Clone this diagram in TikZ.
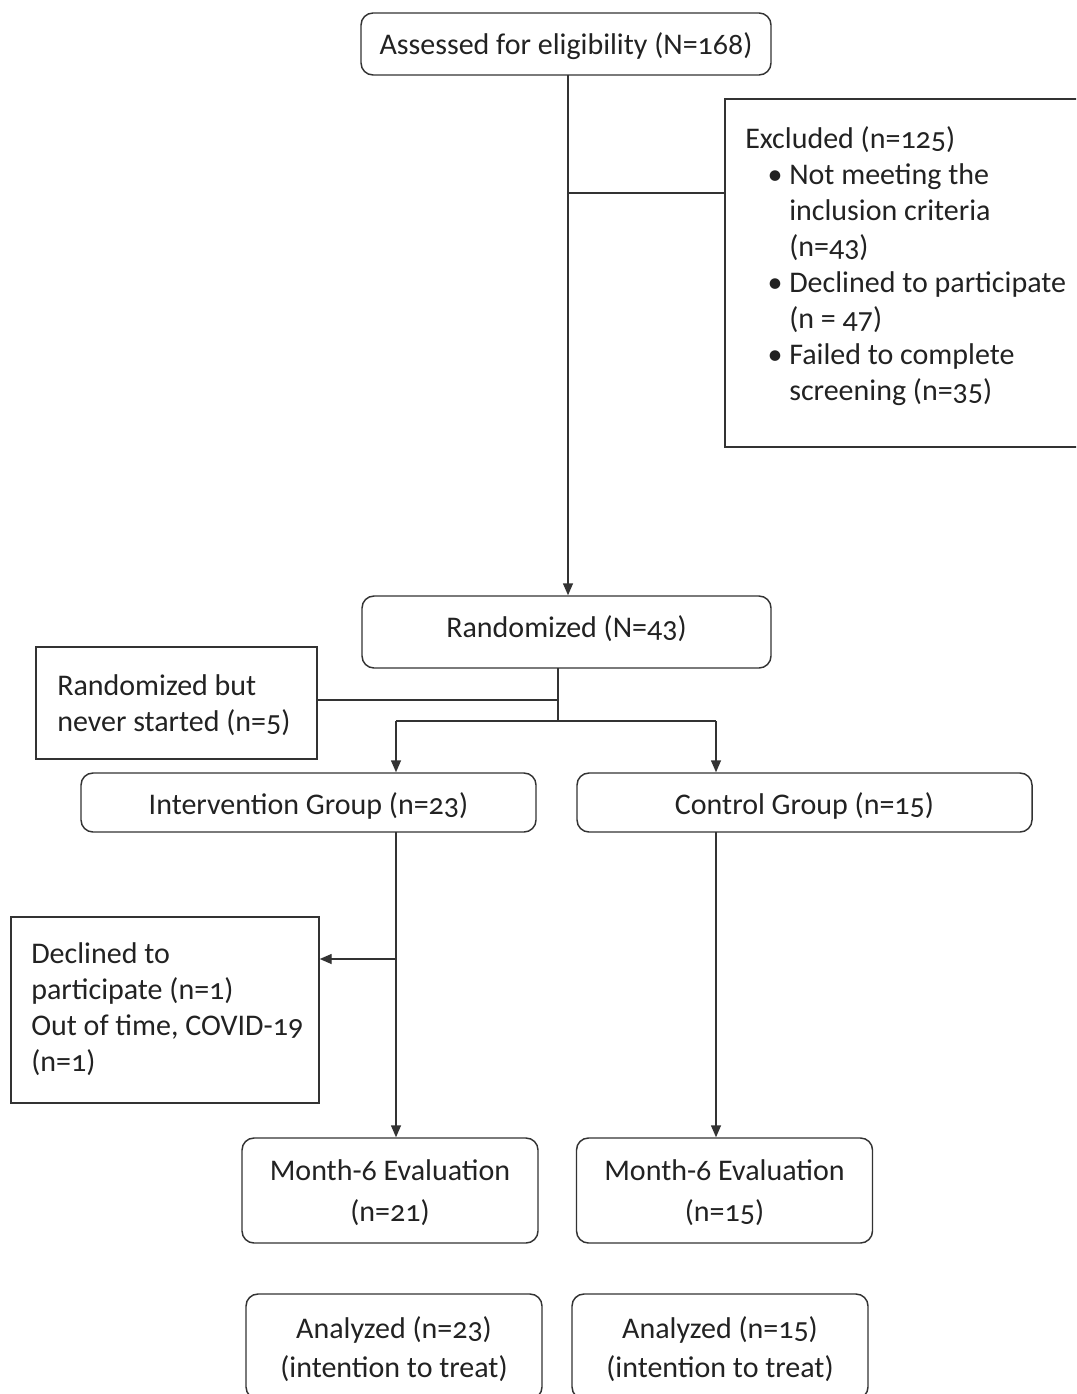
\documentclass[tikz,border=0pt]{standalone}
\usepackage{fontspec}
\setmainfont{Carlito}[Numbers=OldStyle]
\usetikzlibrary{arrows.meta}
\definecolor{ln}{HTML}{333333}
\definecolor{tx}{HTML}{222222}
\tikzset{
  rbox/.style={draw=ln, line width=1.1pt, rounded corners=9pt, inner sep=0pt},
  sbox/.style={draw=ln, line width=1.1pt, inner sep=0pt},
  ctxt/.style={text=tx, align=center, inner sep=0pt},
  lbl/.style={text=tx, align=left, inner sep=0pt},
  conn/.style={draw=ln, line width=1.1pt},
  arr/.style={conn, -{Triangle[length=9pt,width=7.5pt]}},
}
\newcommand{\bul}{\llap{•\hspace{5pt}}}
\begin{document}
\begin{tikzpicture}[x=0.75pt,y=-0.75pt,font=\fontsize{22.5}{27}\selectfont]
\path[use as bounding box] (0,0) rectangle (1076,1394);
\clip (0,0) rectangle (1076,1394);
% boxes
\node[rbox, minimum width=307.5pt, minimum height=46.5pt] (assessed) at (566,44) {};
\node[sbox, minimum width=266.25pt, minimum height=261pt] (excl) at (902.5,273) {};
\node[rbox, minimum width=306.75pt, minimum height=54pt] (rand) at (566.5,632) {};
\node[sbox, minimum width=210.75pt, minimum height=84pt] (never) at (176.5,703) {};
\node[rbox, minimum width=341.25pt, minimum height=44.25pt] (interv) at (308.5,802.5) {};
\node[rbox, minimum width=341.25pt, minimum height=44.25pt] (control) at (804.5,802.5) {};
\node[sbox, minimum width=231pt, minimum height=139.5pt] (declined) at (165,1010) {};
\node[rbox, minimum width=222pt, minimum height=78.75pt] (m6l) at (390,1190.5) {};
\node[rbox, minimum width=222pt, minimum height=78.75pt] (m6r) at (724.5,1190.5) {};
\node[rbox, minimum width=222pt, minimum height=78.75pt] (anl) at (394,1346.5) {};
\node[rbox, minimum width=222pt, minimum height=78.75pt] (anr) at (720,1346.5) {};
% texts
\node[ctxt] (assessedtxt) at (566,46) {Assessed for eligibility (N=168)};
\node[lbl, anchor=north west] (excltxt) at (745,126) {Excluded (n=125)\\
\hspace*{33pt}\bul Not meeting the\\
\hspace*{33pt}inclusion criteria\\
\hspace*{33pt}(n=43)\\
\hspace*{33pt}\bul Declined to participate\\
\hspace*{33pt}(n = 47)\\
\hspace*{33pt}\bul Failed to complete\\
\hspace*{33pt}screening (n=35)};
\node[ctxt] (randtxt) at (566.5,628.5) {Randomized (N=43)};
\node[lbl, anchor=west] (nevertxt) at (57,705) {Randomized but\\never started (n=5)};
\node[ctxt] (intervtxt) at (308.5,805.5) {Intervention Group (n=23)};
\node[ctxt] (controltxt) at (804.5,805.5) {Control Group (n=15)};
\node[lbl, anchor=west] (declinedtxt) at (31,1009.5) {Declined to\\participate (n=1)\\Out of time, COVID-19\\(n=1)};
\node[ctxt, font=\fontsize{22.5}{30.75}\selectfont] (m6ltxt) at (390,1193) {Month-6 Evaluation\\(n=21)};
\node[ctxt, font=\fontsize{22.5}{30.75}\selectfont] (m6rtxt) at (724.5,1193) {Month-6 Evaluation\\(n=15)};
\node[ctxt, font=\fontsize{22.5}{29.25}\selectfont] (anltxt) at (394,1349) {Analyzed (n=23)\\(intention to treat)};
\node[ctxt, font=\fontsize{22.5}{29.25}\selectfont] (anrtxt) at (720,1349) {Analyzed (n=15)\\(intention to treat)};
% junction coordinates
\coordinate (a1) at (568,75);
\coordinate (j1) at (568,193);
\coordinate (r1) at (558,668);
\coordinate (jn) at (558,700);
\coordinate (split) at (558,721);
\coordinate (sl) at (396,721);
\coordinate (sr) at (716,721);
\coordinate (il) at (396,832);
\coordinate (jd) at (396,959);
\coordinate (cl) at (716,832);
% connectors
\draw[arr] (a1) -- (a1 |- rand.north);
\draw[conn] (j1) -- (j1 -| excl.west);
\draw[conn] (r1) -- (split);
\draw[conn] (jn) -- (jn -| never.east);
\draw[conn] (sl) -- (sr);
\draw[arr] (sl) -- (sl |- interv.north);
\draw[arr] (sr) -- (sr |- control.north);
\draw[arr] (il) -- (il |- m6l.north);
\draw[arr] (jd) -- (jd -| declined.east);
\draw[arr] (cl) -- (cl |- m6r.north);
\end{tikzpicture}
\end{document}
